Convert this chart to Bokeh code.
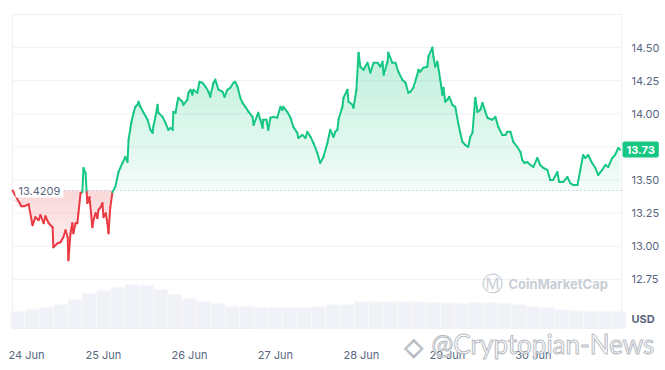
import numpy as np
from bokeh.plotting import figure
from bokeh.models import Range1d, FixedTicker, Label, ColumnDataSource
from bokeh.embed import file_html
from bokeh.resources import INLINE

# ---- data (hours since 24 Jun 00:00, price in USD) ----
hours = [-1.4, 1.1, 2.0, 3.1, 4.2, 5.0, 5.9, 6.4, 7.3, 7.8, 8.7, 9.8, 10.0, 11.2, 12.0, 12.8, 13.4, 14.0, 14.2, 14.8,
         15.3, 15.6, 16.2, 16.7, 17.0, 17.6, 18.1, 18.4, 19.0, 19.3, 19.5, 20.1, 20.9, 21.2, 21.8, 22.3, 22.6, 23.2, 23.7, 24.0,
         24.6, 25.1, 25.4, 25.9, 26.5, 27.3, 28.2, 29.3, 30.1, 30.7, 31.0, 31.8, 32.4, 32.9, 33.5, 33.8, 34.3, 35.2, 36.3, 37.1,
         37.7, 37.9, 38.5, 39.1, 39.3, 40.5, 41.3, 42.1, 42.7, 43.3, 43.5, 44.1, 44.6, 44.9, 46.0, 46.3, 47.4, 47.7, 48.3, 48.8,
         49.1, 50.2, 50.8, 51.6, 52.5, 53.3, 53.8, 54.7, 55.2, 56.1, 57.2, 57.8, 58.6, 59.4, 60.3, 60.8, 61.4, 62.2, 62.8, 63.6,
         64.5, 65.6, 65.9, 67.0, 67.2, 67.8, 68.4, 68.6, 69.5, 70.0, 70.6, 71.4, 72.5, 73.4, 73.9, 74.2, 75.3, 76.2, 77.0, 78.1,
         78.4, 79.5, 80.4, 80.9, 81.8, 82.6, 83.7, 84.5, 85.4, 86.5, 87.3, 88.2, 88.7, 89.3, 89.6, 90.7, 91.0, 92.1, 92.4, 93.5,
         93.8, 94.6, 95.2, 95.7, 96.6, 97.7, 98.5, 99.4, 100.5, 101.3, 101.9, 102.2, 103.3, 103.5, 104.6, 105.5, 106.3, 107.4, 108.3, 109.1,
         109.7, 110.5, 111.6, 111.9, 112.4, 113.3, 114.4, 114.7, 115.8, 116.1, 116.6, 117.2, 118.0, 118.6, 118.9, 119.4, 120.0, 120.5, 121.4, 122.2,
         123.0, 123.6, 124.2, 125.0, 125.8, 126.4, 127.0, 127.8, 128.4, 129.2, 129.8, 130.6, 131.2, 132.5, 133.4, 134.2, 135.3, 136.2, 136.7, 137.6,
         138.4, 139.5, 140.4, 140.9, 141.5, 142.3, 143.2, 144.0, 145.1, 145.9, 146.8, 147.9, 148.7, 149.5, 150.7, 151.2, 152.3, 153.5, 154.3, 155.2,
         156.3, 157.1, 157.9, 158.5, 159.3, 160.4, 161.3, 162.1, 163.2, 164.1, 164.9, 166.0, 166.8, 167.7, 168.2]

prices = [13.421, 13.303, 13.303, 13.318, 13.159, 13.220, 13.197, 13.235, 13.174, 13.227, 13.174, 13.144, 12.992, 13.023, 13.030, 13.068, 13.121, 13.068, 12.894, 13.098,
          13.174, 13.098, 13.174, 13.174, 13.250, 13.401, 13.409, 13.591, 13.553, 13.409, 13.326, 13.371, 13.144, 13.197, 13.250, 13.212, 13.273, 13.295, 13.326, 13.220,
          13.250, 13.174, 13.098, 13.295, 13.409, 13.447, 13.561, 13.629, 13.674, 13.636, 13.803, 13.939, 14.008, 14.053, 14.068, 14.091, 14.053, 14.008, 13.955, 13.879,
          13.856, 13.901, 13.977, 14.068, 14.008, 13.977, 13.932, 13.879, 13.894, 13.879, 14.015, 14.008, 14.083, 14.121, 14.091, 14.068, 14.106, 14.159, 14.182, 14.144,
          14.182, 14.159, 14.242, 14.235, 14.204, 14.167, 14.129, 14.235, 14.258, 14.182, 14.167, 14.129, 14.182, 14.197, 14.235, 14.242, 14.204, 14.121, 14.083, 14.053,
          14.015, 13.977, 13.917, 13.992, 14.008, 13.955, 13.894, 13.955, 13.955, 13.879, 13.970, 13.977, 13.970, 14.053, 14.030, 14.053, 14.015, 13.970, 13.901, 13.856,
          13.818, 13.841, 13.818, 13.864, 13.826, 13.780, 13.704, 13.629, 13.674, 13.780, 13.879, 13.826, 13.864, 13.879, 13.955, 14.053, 14.121, 14.182, 14.091, 14.068,
          14.045, 14.182, 14.462, 14.356, 14.333, 14.386, 14.311, 14.386, 14.386, 14.356, 14.394, 14.295, 14.394, 14.462, 14.386, 14.386, 14.318, 14.258, 14.235, 14.159,
          14.167, 14.197, 14.295, 14.333, 14.318, 14.348, 14.356, 14.432, 14.500, 14.432, 14.356, 14.394, 14.258, 14.144, 14.197, 14.091, 14.106, 14.129, 14.068, 14.053,
          13.932, 13.856, 13.788, 13.765, 13.750, 13.826, 13.856, 14.121, 14.015, 14.030, 14.083, 14.015, 13.970, 13.955, 13.977, 13.901, 13.841, 13.841, 13.864, 13.864,
          13.788, 13.750, 13.712, 13.652, 13.629, 13.636, 13.614, 13.598, 13.667, 13.614, 13.591, 13.576, 13.500, 13.500, 13.561, 13.485, 13.485, 13.523, 13.477, 13.462,
          13.462, 13.576, 13.689, 13.667, 13.689, 13.629, 13.591, 13.538, 13.576, 13.614, 13.598, 13.667, 13.689, 13.742, 13.730]

open_price = 13.4209
last_price = 13.73

vol_hours = [0, 4, 8, 12, 16, 20, 24, 28, 32, 36, 40, 44, 48, 52, 56, 60, 64, 68, 72, 76, 80, 84,
             88, 92, 96, 100, 104, 108, 112, 116, 120, 124, 128, 132, 136, 140, 144, 148, 152, 156, 160, 164, 168]
volumes = [17, 19, 21, 24, 29, 35, 38, 41, 44, 43, 39, 34, 30, 27, 25, 22, 22, 21, 21, 21, 21, 22,
           24, 24, 27, 27, 27, 27, 27, 26, 26, 25, 26, 26, 25, 24, 22, 21, 19, 18, 17, 17, 17]

day_ticks = [2.5, 24.0, 48.0, 72.0, 96.0, 120.0, 144.0]
day_labels = ["24 Jun", "25 Jun", "26 Jun", "27 Jun", "28 Jun", "29 Jun", "30 Jun"]
price_ticks = [12.75, 13.0, 13.25, 13.5, 13.75, 14.0, 14.25, 14.5]
price_labels = ["12.75", "13.00", "13.25", "13.50", "", "14.00", "14.25", "14.50"]

assert len(hours) == len(prices), (len(hours), len(prices))
assert len(vol_hours) == len(volumes)

GREEN = "#16c784"
RED = "#ea3943"
TXT = "#58667e"
FONT = "Inter"

# ---- layout: chart box inside the 665x370 canvas ----
W, H = 665, 370
BOX_L, BOX_R, BOX_T, BOX_B = 12, 621, 14, 328     # pixels
X0, X1 = -1.4, 168.6                               # hours shown in the box
Y0, Y1 = 12.379, 14.75                             # prices shown in the box
sx = (X1 - X0) / (BOX_R - BOX_L)
sy = (Y1 - Y0) / (BOX_B - BOX_T)
xr = Range1d(X0 - BOX_L * sx, X1 + (W - BOX_R) * sx)
yr = Range1d(Y0 - (H - BOX_B) * sy, Y1 + BOX_T * sy)
VOL_SCALE = 1.0  # volume units per pixel
vr = Range1d(-(H - BOX_B) * VOL_SCALE, BOX_B * VOL_SCALE)

p = figure(width=W, height=H, output_backend="svg", toolbar_location=None,
           x_range=xr, y_range=yr, y_axis_location="right", min_border=0)
p.background_fill_color = "white"
p.border_fill_color = "white"
p.outline_line_color = None
p.extra_y_ranges = {"vol": vr}

# grid lines and box
p.segment(x0=X0, x1=X1, y0=price_ticks, y1=price_ticks, line_color="#eff2f5", line_width=1)
p.quad(left=X0, right=X1, bottom=Y0, top=Y1, fill_color=None, line_color="#eceff3", line_width=1)

# volume bars
p.vbar(x=vol_hours, top=volumes, bottom=0, width=3.85, y_range_name="vol",
       fill_color="#f0f2f7", line_color=None)

h = np.array(hours)
pr = np.array(prices)

# gradient-like fills made of bands
top_level = 14.55
nb = 24
edges = np.linspace(open_price, top_level, nb + 1)
for i in range(nb):
    lo, hi = edges[i], edges[i + 1]
    a = 0.05 + 0.25 * (i + 0.5) / nb
    y2 = np.clip(pr, lo, hi)
    p.varea(x=h, y1=np.full_like(pr, lo), y2=y2, fill_color=GREEN, fill_alpha=a)

bot_level = 12.85
edges_r = np.linspace(open_price, bot_level, 16 + 1)
for i in range(16):
    hi, lo = edges_r[i], edges_r[i + 1]
    a = 0.2 - 0.14 * (i + 0.5) / 16
    y2 = np.clip(pr, lo, hi)
    p.varea(x=h, y1=np.full_like(pr, hi), y2=y2, fill_color=RED, fill_alpha=a)

# baseline (open price)
p.segment(x0=[X0], x1=[X1], y0=[open_price], y1=[open_price], line_color="#a6b0c3",
          line_width=1, line_dash="1 3")

# price line, coloured per segment
mid = (pr[:-1] + pr[1:]) / 2
colors = [GREEN if m >= open_price else RED for m in mid]
seg = ColumnDataSource(dict(x0=h[:-1], y0=pr[:-1], x1=h[1:], y1=pr[1:], c=colors))
p.segment(x0="x0", y0="y0", x1="x1", y1="y1", line_color="c", line_width=2,
          line_cap="round", source=seg)

p.xgrid.visible = False
p.ygrid.visible = False

# axes, fixed at the edges of the chart box
yax = p.yaxis[0]
yax.fixed_location = X1
yax.ticker = FixedTicker(ticks=price_ticks)
yax.major_label_overrides = {t: l for t, l in zip(price_ticks, price_labels)}
yax.axis_line_color = None
yax.major_tick_line_color = None
yax.minor_tick_line_color = None
yax.major_label_text_color = TXT
yax.major_label_text_font = FONT
yax.major_label_text_font_size = "11px"
yax.major_label_standoff = 4

xax = p.xaxis[0]
xax.fixed_location = Y0
xax.ticker = FixedTicker(ticks=day_ticks)
xax.major_label_overrides = {t: l for t, l in zip(day_ticks, day_labels)}
xax.axis_line_color = None
xax.major_tick_line_color = None
xax.minor_tick_line_color = None
xax.major_label_text_color = TXT
xax.major_label_text_font = FONT
xax.major_label_text_font_size = "11px"
xax.major_label_standoff = 13

# open price label
p.add_layout(Label(x=hours[0], y=open_price, x_offset=3, text=f"{open_price:.4f}",
                   text_color=TXT, text_font=FONT, text_font_size="11px",
                   text_baseline="middle", background_fill_color="white",
                   padding=3))

# last price tag
p.add_layout(Label(x=X1, y=last_price, x_offset=1, text=f"{last_price:.2f}",
                   text_color="white", text_font=FONT, text_font_size="11px",
                   text_font_style="bold", text_baseline="middle",
                   background_fill_color=GREEN, padding=4, border_radius=2))

# USD label
p.add_layout(Label(x=X1, y=Y0, x_offset=10, y_offset=10, text="USD",
                   text_color=TXT, text_font=FONT, text_font_size="11px",
                   text_font_style="bold", text_baseline="middle"))

# CoinMarketCap watermark
p.add_layout(Label(x=481, y=H - 283, x_units="screen", y_units="screen", text="\u24c2",
                   text_color="#c9ced6", text_font="DejaVu Sans", text_font_size="21px",
                   text_baseline="middle"))
p.add_layout(Label(x=508, y=H - 283, x_units="screen", y_units="screen", text="CoinMarketCap",
                   text_color="#c9ced6", text_font=FONT, text_font_size="13px",
                   text_font_style="bold", text_baseline="middle"))

# Cryptopian-News watermark (hollow text)
p.add_layout(Label(x=404, y=H - 360, x_units="screen", y_units="screen", text="\u25c7",
                   text_color="white", text_outline_color="#b0b5bc", text_font="DejaVu Sans",
                   text_font_size="24px"))
p.add_layout(Label(x=431, y=H - 359, x_units="screen", y_units="screen", text="@Cryptopian-News",
                   text_color="white", text_alpha=0.9, text_outline_color="#aeb3ba", text_font="Lato",
                   text_font_size="26px"))

open("out.html", "w").write(file_html(p, INLINE))
